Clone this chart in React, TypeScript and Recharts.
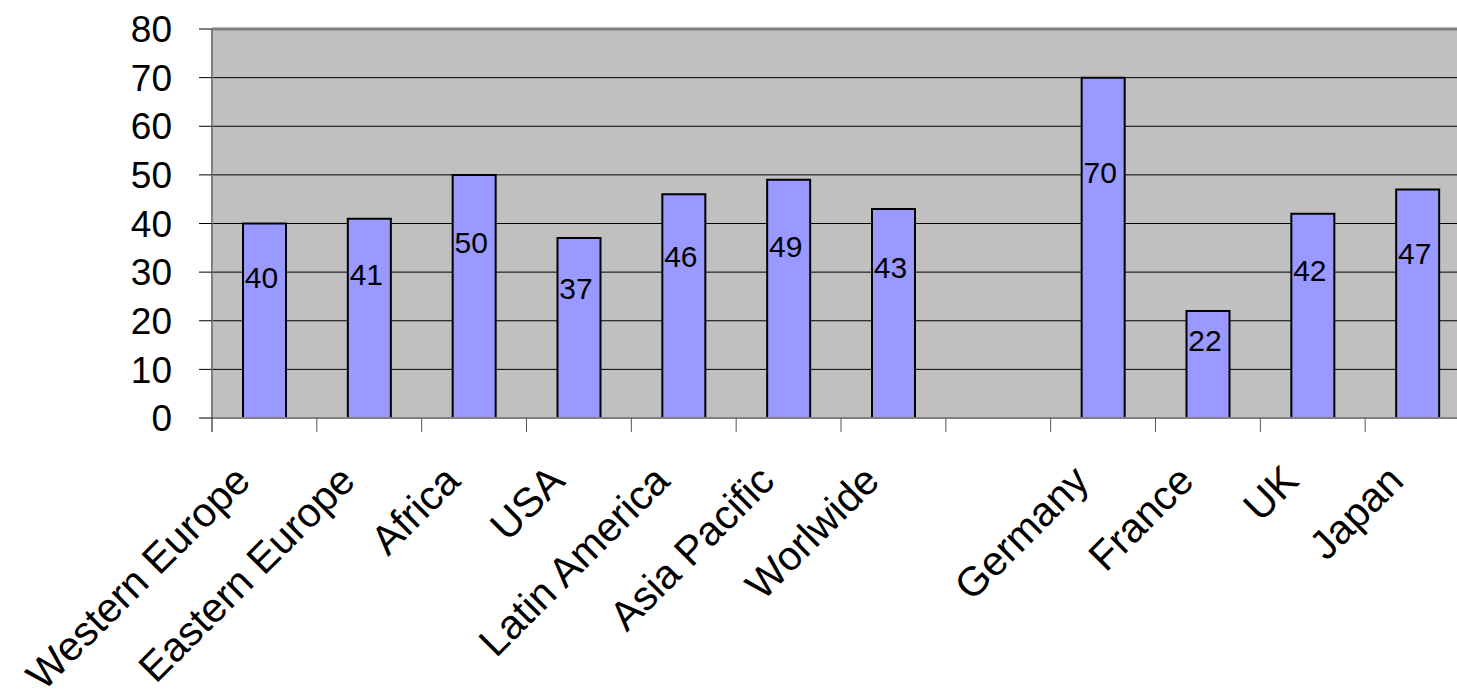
import { BarChart, Bar, XAxis, YAxis, CartesianGrid, ReferenceLine, LabelList } from 'recharts';

// chart values
const categories = [
    'Western Europe',
    'Eastern Europe',
    'Africa',
    'USA',
    'Latin America',
    'Asia Pacific',
    'Worlwide',
    '',
    'Germany',
    'France',
    'UK',
    'Japan'
];
const values: (number | null)[] = [40, 41, 50, 37, 46, 49, 43, null, 70, 22, 42, 47];
const yTicks = [0, 10, 20, 30, 40, 50, 60, 70, 80];

const data = categories.map((name, i) => ({ name, value: values[i] }));

// layout
const CHART_W = 1520;
const CHART_H = 693;
const PLOT_LEFT = 212;
const PLOT_TOP = 29;
const PLOT_BOTTOM = 418;
const PLOT_RIGHT = 1470;
const BAND = (PLOT_RIGHT - PLOT_LEFT) / categories.length;
const FONT = '"Liberation Sans", Arial, sans-serif';

const XTick = (props: any) => {
    const { x, payload, index } = props;
    const tx = x - 12;
    const ty = 483;
    return (
        <g>
            <line x1={x - BAND / 2} x2={x - BAND / 2} y1={PLOT_BOTTOM} y2={PLOT_BOTTOM + 14} stroke={index === 0 ? '#000' : '#555'} strokeWidth={1} />
            {index === categories.length - 1 && (
                <line x1={x + BAND / 2} x2={x + BAND / 2} y1={PLOT_BOTTOM} y2={PLOT_BOTTOM + 14} stroke="#555" strokeWidth={1} />
            )}
            <text
                x={tx}
                y={ty}
                textAnchor="end"
                fontSize={41}
                fontFamily={FONT}
                fill="#000"
                transform={`rotate(-45, ${tx}, ${ty})`}
            >
                {payload.value}
            </text>
        </g>
    );
};

const ValueLabel = (props: any) => {
    const { x, y, width, height, value } = props;
    if (value == null) return null;
    return (
        <text
            x={x + width / 2 - 3}
            y={y + height * 0.28}
            textAnchor="middle"
            dominantBaseline="central"
            fontSize={30}
            fontFamily={FONT}
            fill="#000"
        >
            {value}
        </text>
    );
};

export default function App() {
    return (
        <div style={{ position: 'absolute', left: 0, top: 0, width: 1457, height: 693, overflow: 'hidden', background: '#fff' }}>
            <BarChart
                width={CHART_W}
                height={CHART_H}
                data={data}
                margin={{ top: PLOT_TOP, right: CHART_W - PLOT_RIGHT, bottom: 0, left: 0 }}
                barSize={43}
            >
                <CartesianGrid vertical={false} fill="#C0C0C0" stroke="#000" strokeWidth={1} fillOpacity={1} />
                <XAxis
                    dataKey="name"
                    height={CHART_H - PLOT_BOTTOM}
                    interval={0}
                    tickLine={false}
                    axisLine={{ stroke: '#808080', strokeWidth: 2 }}
                    tick={<XTick />}
                />
                <YAxis
                    width={PLOT_LEFT}
                    domain={[0, 80]}
                    ticks={yTicks}
                    interval={0}
                    tickSize={13}
                    tickMargin={27}
                    tickLine={{ stroke: '#000' }}
                    axisLine={{ stroke: '#808080', strokeWidth: 2 }}
                    tick={{ fill: '#000', fontSize: 37, fontFamily: FONT }}
                />
                <ReferenceLine y={80} stroke="#808080" strokeWidth={3} />
                <Bar dataKey="value" fill="#9999FF" stroke="#000" strokeWidth={2} isAnimationActive={false}>
                    <LabelList dataKey="value" content={<ValueLabel />} />
                </Bar>
            </BarChart>
        </div>
    );
}
